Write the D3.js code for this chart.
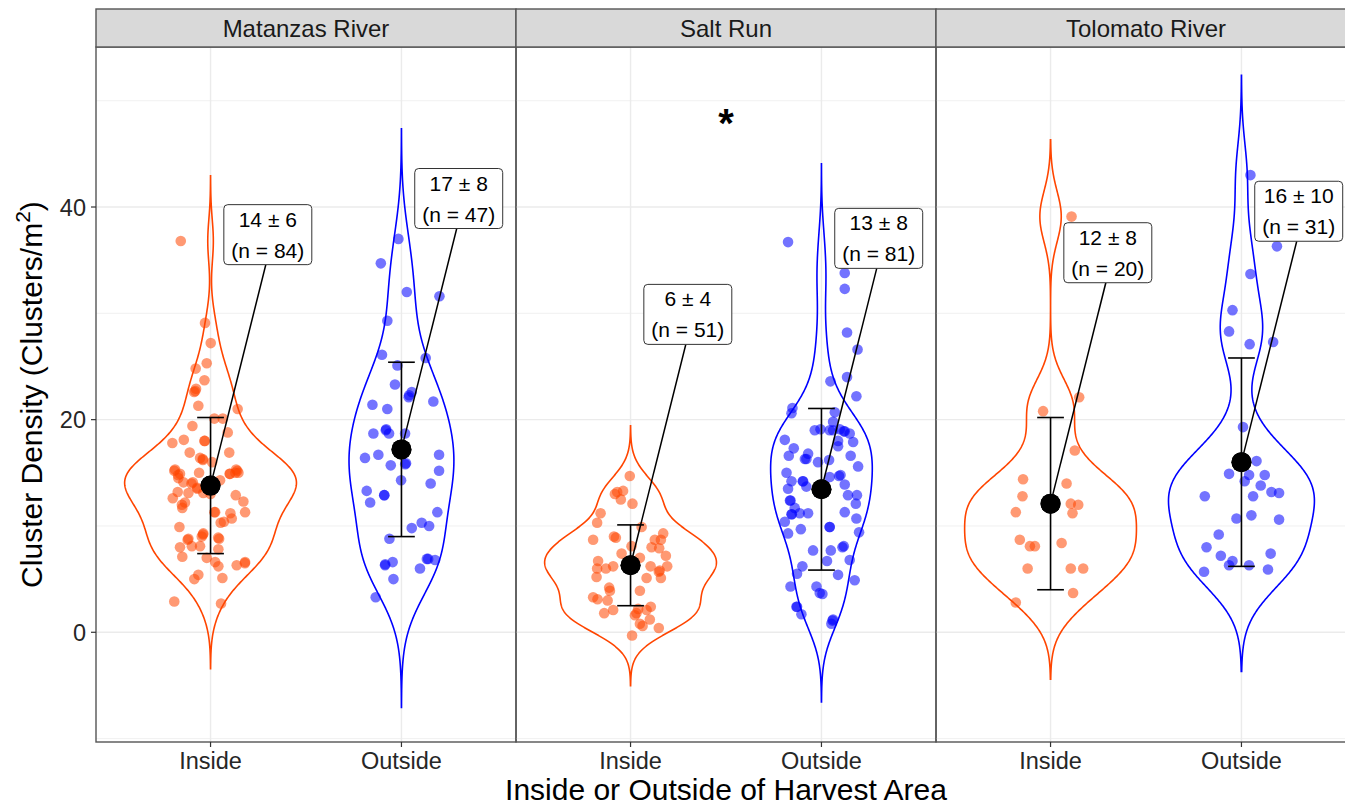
<!DOCTYPE html>
<html>
<head>
<meta charset="utf-8">
<script src="https://cdn.jsdelivr.net/npm/d3@7"></script>
<style>
  body { margin: 0; background: #ffffff; }
  text { font-family: "Liberation Sans", Arial, Helvetica, sans-serif; }
</style>
</head>
<body>
<svg id="chart" width="1345" height="805"></svg>
<script>
// ---- data -------------------------------------------------------------
const sites = ["Matanzas River", "Salt Run", "Tolomato River"];
const locations = ["Inside", "Outside"];
const yTicks = [0, 20, 40];
const yMinorTicks = [-10, 10, 30, 50];

// group summaries: mean and standard deviation, [site][location]
const groupMeans = [[13.8, 17.2], [6.3, 13.45], [12.1, 16.0]];
const groupSds = [[6.4, 8.2], [3.8, 7.6], [8.1, 9.8]];

// individual quadrat densities: [jitter offset (category steps), clusters per m2]
const matanzasInside = [
  [-0.029, 29.1], [0.001, 27.2], [-0.02, 25.3], [-0.078, 24.8], [-0.032, 23.7], [-0.076, 22.9],
  [-0.086, 22.6], [-0.064, 21.3], [0.142, 21.0], [0.02, 20.1], [0.064, 20.1], [-0.095, 19.4],
  [0.09, 18.8], [-0.2, 17.8], [-0.14, 18.1], [-0.032, 18.0], [-0.109, 16.9], [0.098, 16.9],
  [-0.055, 16.4], [-0.041, 16.3], [0.008, 16.0], [-0.186, 15.3], [-0.16, 14.9], [-0.169, 14.5],
  [-0.06, 15.0], [0.134, 15.3], [0.146, 15.0], [0.102, 14.9], [0.05, 14.3], [-0.142, 14.1],
  [-0.093, 14.1], [-0.069, 13.5], [-0.038, 13.1], [-0.172, 13.2], [-0.116, 13.1], [-0.198, 12.6],
  [0.132, 12.9], [0.172, 12.3], [-0.134, 12.2], [-0.148, 11.7], [0.181, 11.3], [0.024, 11.3],
  [0.104, 11.2], [0.111, 10.7], [0.053, 10.3], [-0.163, 9.9], [-0.038, 9.3], [-0.046, 9.0],
  [-0.116, 8.8], [0.045, 8.8], [-0.098, 8.1], [-0.055, 8.1], [-0.16, 8.0], [0.041, 7.8],
  [-0.148, 7.1], [-0.02, 7.0], [0.024, 6.6], [0.041, 6.2], [0.181, 6.6], [0.137, 6.3],
  [-0.064, 5.4], [-0.085, 5.0], [0.062, 5.1], [-0.19, 2.9], [0.055, 2.7], [-0.156, 36.8],
  [-0.17, 14.8], [0.14, 15.2], [-0.1, 14.0], [0.04, 8.9], [-0.04, 9.2], [0.18, 6.5],
  [-0.07, 13.6], [-0.08, 22.7], [-0.04, 16.2], [0.13, 15.0], [-0.15, 12.0], [0.02, 11.3],
  [-0.12, 8.7], [0.07, 10.4], [-0.03, 18.0], [0.1, 14.9], [-0.19, 15.2], [0.0, 13.0]
];
const matanzasOutside = [
  [-0.016, 37.0], [-0.108, 34.7], [0.028, 32.0], [0.199, 31.6], [-0.074, 29.3], [-0.102, 26.1],
  [0.127, 25.8], [-0.021, 25.1], [-0.034, 23.3], [0.054, 22.6], [0.038, 22.1], [-0.152, 21.4],
  [-0.074, 21.0], [0.167, 21.7], [-0.147, 18.7], [-0.082, 19.0], [-0.065, 18.7], [0.019, 18.7],
  [-0.191, 16.4], [-0.121, 16.7], [-0.056, 15.7], [0.024, 15.9], [0.197, 16.7], [0.197, 15.2],
  [-0.002, 14.3], [0.153, 14.0], [-0.182, 13.3], [-0.164, 12.2], [-0.09, 12.9], [0.188, 11.3],
  [0.054, 9.8], [0.106, 10.3], [0.145, 10.0], [-0.063, 8.8], [-0.086, 6.3], [-0.046, 6.6],
  [0.133, 6.9], [0.176, 6.8], [0.097, 6.0], [-0.042, 5.0], [-0.135, 3.3], [-0.09, 12.9],
  [0.04, 22.3], [-0.08, 19.1], [0.14, 6.9], [-0.085, 6.4], [0.02, 15.8]
];
const saltRunInside = [
  [-0.004, 14.7], [-0.07, 13.2], [-0.039, 13.3], [-0.051, 12.5], [0.01, 12.1], [-0.082, 13.0],
  [-0.157, 11.2], [-0.175, 10.3], [0.058, 9.9], [-0.196, 8.7], [-0.087, 9.0], [-0.077, 8.9],
  [0.171, 9.3], [0.127, 8.7], [0.159, 8.7], [0.11, 8.0], [0.15, 7.9], [0.005, 8.1],
  [0.185, 7.2], [-0.047, 7.4], [0.049, 7.0], [-0.17, 6.7], [-0.175, 6.0], [-0.129, 6.0],
  [-0.091, 6.2], [0.105, 6.2], [0.148, 5.7], [0.192, 6.2], [0.159, 5.1], [-0.178, 5.2],
  [0.084, 5.1], [-0.112, 4.2], [-0.108, 3.9], [0.049, 3.9], [-0.196, 3.3], [-0.173, 3.1],
  [-0.12, 3.0], [-0.091, 2.1], [-0.138, 1.8], [0.031, 1.8], [0.084, 2.1], [0.106, 2.4],
  [0.023, 1.6], [0.101, 1.2], [0.049, 0.8], [0.063, 0.6], [0.148, 0.4], [0.008, -0.3],
  [0.153, 5.8], [-0.02, 6.5], [0.04, 2.2]
];
const saltRunOutside = [
  [-0.175, 36.7], [0.122, 33.8], [0.122, 32.3], [0.134, 28.2], [0.189, 26.6], [0.134, 24.0],
  [0.047, 23.6], [0.183, 22.2], [-0.152, 21.1], [-0.157, 20.6], [0.07, 20.7], [0.061, 19.8],
  [-0.035, 19.0], [-0.005, 19.1], [0.061, 19.0], [0.096, 19.1], [0.117, 18.9], [0.148, 18.7],
  [0.166, 17.9], [-0.192, 18.1], [-0.145, 17.3], [0.087, 18.0], [0.087, 17.5], [-0.171, 16.6],
  [-0.07, 16.8], [-0.079, 16.3], [-0.018, 16.0], [0.04, 16.2], [0.153, 16.6], [0.192, 15.6],
  [-0.183, 15.0], [-0.157, 14.2], [-0.096, 14.2], [-0.079, 13.7], [0.043, 14.6], [0.092, 14.7],
  [0.122, 13.9], [0.139, 12.9], [0.186, 12.9], [0.18, 12.1], [-0.175, 13.5], [-0.162, 12.4],
  [-0.14, 11.7], [-0.157, 11.1], [-0.114, 11.2], [-0.07, 11.2], [0.122, 11.3], [0.183, 10.7],
  [-0.192, 10.4], [-0.175, 9.3], [-0.108, 9.7], [0.043, 9.9], [0.197, 9.4], [-0.044, 7.7],
  [0.049, 7.7], [0.11, 8.0], [0.117, 8.1], [0.148, 6.8], [0.029, 6.7], [-0.1, 6.2],
  [-0.128, 5.5], [0.087, 5.4], [0.174, 4.9], [-0.162, 4.3], [-0.026, 4.3], [-0.009, 3.7],
  [0.005, 3.6], [-0.131, 2.4], [-0.105, 1.7], [0.061, 1.2], [0.052, 0.8], [-0.155, 11.1],
  [-0.098, 14.2], [0.058, 1.1], [-0.128, 2.4], [0.043, 19.0], [0.122, 18.9], [-0.087, 16.3],
  [0.1, 14.8], [0.043, 9.9], [-0.165, 12.4]
];
const tolomatoInside = [
  [0.11, 39.1], [0.15, 22.1], [-0.039, 20.8], [0.127, 17.1], [-0.144, 14.4], [0.084, 14.0],
  [-0.147, 12.8], [0.106, 12.1], [0.145, 12.0], [0.115, 11.2], [-0.182, 11.3], [-0.161, 8.7],
  [-0.108, 8.1], [-0.082, 8.1], [0.058, 8.4], [-0.12, 6.0], [0.106, 6.0], [0.171, 6.0],
  [0.118, 3.7], [-0.182, 2.8]
];
const tolomatoOutside = [
  [0.047, 43.0], [0.186, 36.3], [0.047, 33.7], [-0.047, 30.3], [-0.065, 28.3], [0.043, 27.1],
  [0.166, 27.3], [0.008, 19.3], [0.079, 16.1], [-0.065, 14.9], [0.04, 14.8], [0.122, 14.8],
  [0.017, 14.2], [0.101, 13.8], [0.157, 13.2], [0.197, 13.1], [-0.192, 12.8], [0.061, 12.8],
  [0.052, 11.0], [-0.026, 10.7], [0.197, 10.6], [-0.119, 9.2], [-0.183, 8.0], [-0.108, 7.2],
  [0.153, 7.4], [-0.047, 6.7], [0.04, 6.3], [-0.196, 5.7], [0.139, 5.9], [-0.065, 6.3],
  [0.0, 16.4]
];
const groupPoints = [
  [matanzasInside, matanzasOutside],
  [saltRunInside, saltRunOutside],
  [tolomatoInside, tolomatoOutside]
];
const significantSite = "Salt Run";
const significanceMarkY = 48.8;

// ---- layout -------------------------------------------------------------
const svg = d3.select("#chart");
const plotLeft = 96, plotRight = 1356, plotTop = 47, plotBottom = 742, stripTop = 9;
const fillColors = ["#FF4500", "#0000FF"];
const violinColors = ["#FF4500", "#0000FF"];

const facetX = d3.scaleBand().domain(sites).range([plotLeft, plotRight]).paddingInner(0).paddingOuter(0);
const y = d3.scaleLinear().domain([-10.32, 55.05]).range([plotBottom, plotTop]);

// Gaussian kernel density with R's bw.nrd0 bandwidth, evaluated beyond the data by 3 bandwidths
function nrd0(vals) {
  const s = d3.sort(vals);
  const sd = d3.deviation(s);
  const iqr = d3.quantile(s, 0.75) - d3.quantile(s, 0.25);
  let lo = Math.min(sd, iqr / 1.34);
  if (!(lo > 0)) lo = sd || 1;
  return 0.9 * lo * Math.pow(s.length, -0.2);
}
function density(vals) {
  const bw = nrd0(vals);
  const lo = d3.min(vals) - 3 * bw, hi = d3.max(vals) + 3 * bw;
  const grid = d3.range(512).map(i => lo + (hi - lo) * i / 511);
  const k = 1 / (vals.length * bw * Math.sqrt(2 * Math.PI));
  return grid.map(g => [g, k * d3.sum(vals, v => Math.exp(-0.5 * ((g - v) / bw) ** 2))]);
}

const defs = svg.append("defs");
sites.forEach((site, si) => {
  defs.append("clipPath").attr("id", "clip" + si)
    .append("rect").attr("x", facetX(site)).attr("y", plotTop)
    .attr("width", facetX.bandwidth()).attr("height", plotBottom - plotTop);
});

sites.forEach((site, si) => {
  const x0 = facetX(site), pw = facetX.bandwidth();
  const xs = d3.scalePoint().domain(locations).range([x0, x0 + pw]).padding(0.6);
  const step = xs.step();
  const panel = svg.append("g");

  // grid
  const grid = panel.append("g");
  grid.selectAll(".minor").data(yMinorTicks).join("line")
    .attr("x1", x0).attr("x2", x0 + pw).attr("y1", d => y(d)).attr("y2", d => y(d))
    .attr("stroke", "#EBEBEB").attr("stroke-width", 0.7);
  grid.selectAll(".major").data(yTicks).join("line")
    .attr("x1", x0).attr("x2", x0 + pw).attr("y1", d => y(d)).attr("y2", d => y(d))
    .attr("stroke", "#EBEBEB").attr("stroke-width", 1.4);
  grid.selectAll(".vmajor").data(locations).join("line")
    .attr("x1", d => xs(d)).attr("x2", d => xs(d)).attr("y1", plotTop).attr("y2", plotBottom)
    .attr("stroke", "#EBEBEB").attr("stroke-width", 1.4);

  const body = panel.append("g").attr("clip-path", `url(#clip${si})`);

  // violins, scaled to the widest density in the panel
  const dens = locations.map((loc, li) => density(groupPoints[si][li].map(p => p[1])));
  const maxD = d3.max(dens, d => d3.max(d, e => e[1]));
  locations.forEach((loc, li) => {
    const cx = xs(loc);
    const area = d3.area()
      .x0(d => cx - d[1] / maxD * 0.45 * step)
      .x1(d => cx + d[1] / maxD * 0.45 * step)
      .y(d => y(d[0]));
    body.append("path").datum(dens[li]).attr("d", area)
      .attr("fill", "none").attr("stroke", violinColors[li]).attr("stroke-width", 1.6);
  });

  // jittered observations
  locations.forEach((loc, li) => {
    body.append("g").selectAll("circle").data(groupPoints[si][li]).join("circle")
      .attr("cx", d => xs(loc) + d[0] * step).attr("cy", d => y(d[1])).attr("r", 5.3)
      .attr("fill", fillColors[li]).attr("fill-opacity", 0.55);
  });

  // mean ± sd
  locations.forEach((loc, li) => {
    const cx = xs(loc), m = groupMeans[si][li], s = groupSds[si][li];
    const cap = 0.07 * step;
    const eb = body.append("g").attr("stroke", "#000").attr("stroke-width", 1.6);
    eb.append("line").attr("x1", cx).attr("x2", cx).attr("y1", y(m - s)).attr("y2", y(m + s));
    eb.append("line").attr("x1", cx - cap).attr("x2", cx + cap).attr("y1", y(m - s)).attr("y2", y(m - s));
    eb.append("line").attr("x1", cx - cap).attr("x2", cx + cap).attr("y1", y(m + s)).attr("y2", y(m + s));
    body.append("circle").attr("cx", cx).attr("cy", y(m)).attr("r", 10).attr("fill", "#000");
  });

  // summary labels with leader lines
  locations.forEach((loc, li) => {
    const cx = xs(loc), m = groupMeans[si][li], s = groupSds[si][li];
    const n = groupPoints[si][li].length;
    const bx = cx + 0.3 * step, by = y(m + 23.6);
    const g = body.append("g");
    const seg = g.append("line").attr("stroke", "#000").attr("stroke-width", 1.5);
    const box = g.append("rect").attr("fill", "#fff").attr("stroke", "#333").attr("stroke-width", 1)
      .attr("rx", 4).attr("ry", 4);
    const t1 = g.append("text").attr("x", bx).attr("y", by - 8).attr("text-anchor", "middle")
      .attr("font-size", 21).attr("fill", "#000").text(`${Math.round(m)} \u00B1 ${Math.round(s)}`);
    const t2 = g.append("text").attr("x", bx).attr("y", by + 23).attr("text-anchor", "middle")
      .attr("font-size", 21).attr("fill", "#000").text(`(n = ${n})`);
    const w = Math.max(t1.node().getComputedTextLength(), t2.node().getComputedTextLength()) + 15;
    const h = 60;
    box.attr("x", bx - w / 2).attr("y", by - h / 2).attr("width", w).attr("height", h);
    seg.attr("x1", cx).attr("y1", y(m)).attr("x2", bx - 2).attr("y2", by + h / 2);
    g.append("circle").attr("cx", cx).attr("cy", y(m)).attr("r", 10).attr("fill", "#000");
  });

  if (site === significantSite) {
    panel.append("text").attr("x", x0 + pw / 2).attr("y", y(significanceMarkY) + 24)
      .attr("text-anchor", "middle").attr("font-size", 40).attr("font-weight", "bold")
      .attr("fill", "#000").text("*");
  }

  // panel border and strip
  panel.append("rect").attr("x", x0).attr("y", plotTop).attr("width", pw).attr("height", plotBottom - plotTop)
    .attr("fill", "none").attr("stroke", "#555").attr("stroke-width", 1.4);
  panel.append("rect").attr("x", x0).attr("y", stripTop).attr("width", pw).attr("height", plotTop - stripTop)
    .attr("fill", "#D9D9D9").attr("stroke", "#555").attr("stroke-width", 1.4);
  panel.append("text").attr("x", x0 + pw / 2).attr("y", (stripTop + plotTop) / 2 + 8.5)
    .attr("text-anchor", "middle").attr("font-size", 24).attr("fill", "#1A1A1A").text(site);

  // x axis ticks and labels
  const xa = panel.append("g").attr("transform", `translate(0,${plotBottom})`);
  xa.selectAll("line").data(locations).join("line")
    .attr("x1", d => xs(d)).attr("x2", d => xs(d)).attr("y1", 0).attr("y2", 5)
    .attr("stroke", "#333").attr("stroke-width", 1.2);
  xa.selectAll("text").data(locations).join("text")
    .attr("x", d => xs(d)).attr("y", 27).attr("text-anchor", "middle")
    .attr("font-size", 23.5).attr("fill", "#262626").text(d => d);
});

// y axis
const ya = svg.append("g").attr("transform", `translate(${plotLeft},0)`);
ya.selectAll("line").data(yTicks).join("line")
  .attr("x1", -5).attr("x2", 0).attr("y1", d => y(d)).attr("y2", d => y(d))
  .attr("stroke", "#333").attr("stroke-width", 1.2);
ya.selectAll("text").data(yTicks).join("text")
  .attr("x", -10).attr("y", d => y(d) + 8.5).attr("text-anchor", "end")
  .attr("font-size", 23.5).attr("fill", "#262626").text(d => d);

// axis titles
svg.append("text").attr("x", (plotLeft + plotRight) / 2).attr("y", 800)
  .attr("text-anchor", "middle").attr("font-size", 30).attr("fill", "#000")
  .text("Inside or Outside of Harvest Area");
const yt = svg.append("text")
  .attr("transform", `translate(42,${(plotTop + plotBottom) / 2}) rotate(-90)`)
  .attr("text-anchor", "middle").attr("font-size", 30).attr("fill", "#000");
yt.append("tspan").text("Cluster Density (Clusters/m");
yt.append("tspan").attr("font-size", 21).attr("dy", -12).text("2");
yt.append("tspan").attr("dy", 12).text(")");
</script>
</body>
</html>
